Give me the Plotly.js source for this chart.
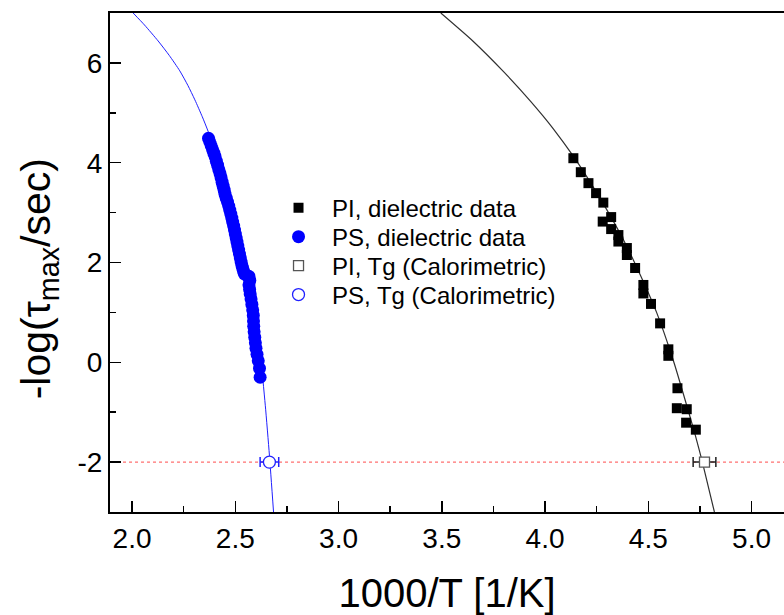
<!DOCTYPE html>
<html>
<head>
<meta charset="utf-8">
<script src="https://cdn.plot.ly/plotly-3.0.1.min.js"></script>
<style>html,body{margin:0;padding:0;background:#fff;}#chart{width:784px;height:615px;}</style>
</head>
<body>
<div id="chart"></div>
<script>
// PI dielectric data (1000/T, -log tau)
const piX = [4.137, 4.173, 4.210, 4.247, 4.282, 4.320, 4.279, 4.320, 4.355, 4.355, 4.396, 4.396, 4.436, 4.476, 4.476, 4.513, 4.557, 4.597, 4.597, 4.641, 4.638, 4.686, 4.683, 4.730];
const piY = [4.09, 3.81, 3.59, 3.39, 3.20, 2.91, 2.82, 2.67, 2.55, 2.42, 2.29, 2.15, 1.89, 1.55, 1.38, 1.17, 0.78, 0.26, 0.13, -0.52, -0.92, -0.94, -1.21, -1.35];

// PS dielectric data
const psX = [2.370, 2.376, 2.383, 2.390, 2.396, 2.402, 2.408, 2.414, 2.420, 2.426, 2.431, 2.436, 2.441, 2.446, 2.450, 2.456, 2.462, 2.468, 2.473, 2.478, 2.483, 2.487, 2.492, 2.496, 2.500, 2.504, 2.508, 2.512, 2.516, 2.520, 2.524, 2.528, 2.532, 2.536, 2.540, 2.544, 2.556, 2.566, 2.570, 2.566, 2.569, 2.572, 2.576, 2.580, 2.584, 2.587, 2.588, 2.589, 2.591, 2.594, 2.597, 2.600, 2.605, 2.611, 2.617, 2.620];
const psY = [4.49, 4.42, 4.34, 4.26, 4.19, 4.12, 4.03, 3.95, 3.86, 3.78, 3.70, 3.61, 3.53, 3.45, 3.37, 3.29, 3.21, 3.13, 3.05, 2.97, 2.89, 2.81, 2.73, 2.65, 2.57, 2.49, 2.41, 2.33, 2.25, 2.17, 2.09, 2.01, 1.94, 1.88, 1.82, 1.77, 1.74, 1.72, 1.64, 1.55, 1.46, 1.37, 1.27, 1.16, 1.05, 0.94, 0.83, 0.72, 0.61, 0.50, 0.39, 0.28, 0.16, 0.03, -0.12, -0.30];

// Calorimetric Tg points
const piTgX = [4.772];
const piTgY = [-2];
const piTgErr = [0.055];
const psTgX = [2.665];
const psTgY = [-2];
const psTgErr = [0.045];

// VFT fit curves
const psFitX = [2.005, 2.06, 2.126, 2.18, 2.231, 2.27, 2.304, 2.34, 2.368, 2.41, 2.45, 2.50, 2.55, 2.59, 2.62, 2.645, 2.665, 2.685];
const psFitY = [7.0, 6.76, 6.44, 6.15, 5.84, 5.55, 5.26, 4.92, 4.63, 4.13, 3.59, 2.81, 1.91, 1.03, 0.19, -0.86, -1.86, -3.0];
const piFitX = [3.495, 3.65, 3.80, 3.93, 4.04, 4.14, 4.22, 4.30, 4.38, 4.46, 4.54, 4.62, 4.67, 4.726, 4.76, 4.82];
const piFitY = [7.0, 6.44, 5.82, 5.23, 4.68, 4.11, 3.60, 3.05, 2.45, 1.76, 1.0, 0.05, -0.64, -1.44, -1.97, -3.0];

// reference level line
const refX = [1.956, 5.3];
const refY = [-2, -2];

// tick labels and titles
const xTickVals = [2.0, 2.5, 3.0, 3.5, 4.0, 4.5, 5.0];
const xTickText = ['2.0', '2.5', '3.0', '3.5', '4.0', '4.5', '5.0'];
const xMinorVals = [2.25, 2.75, 3.25, 3.75, 4.25, 4.75];
const yTickVals = [-2, 0, 2, 4, 6];
const yTickText = ['-2', '0', '2', '4', '6'];
const yMinorVals = [-1, 1, 3, 5];
const xTitle = '1000/T [1/K]';
const yTitle = '-log(τ<sub>max</sub>/sec)';

const FONT = 'Liberation Sans, Arial, Helvetica, sans-serif';

const traces = [
  {x: refX, y: refY, mode: 'lines', line: {color: '#ff7070', width: 1.3, dash: 'dot'}, showlegend: false, hoverinfo: 'skip'},
  {x: psFitX, y: psFitY, mode: 'lines', line: {color: '#2020ff', width: 1, shape: 'spline', smoothing: 0.6}, showlegend: false, hoverinfo: 'skip'},
  {x: piFitX, y: piFitY, mode: 'lines', line: {color: '#303030', width: 1.2, shape: 'spline', smoothing: 0.6}, showlegend: false, hoverinfo: 'skip'},
  {x: piX, y: piY, mode: 'markers', name: 'PI, dielectric data', legend: 'legend', marker: {symbol: 'square', size: 10, color: '#000000'}},
  {x: psX, y: psY, mode: 'markers', name: 'PS, dielectric data', legend: 'legend2', marker: {symbol: 'circle', size: 13, color: '#0000ff'}},
  {x: piTgX, y: piTgY, mode: 'markers', name: 'PI, Tg (Calorimetric)', legend: 'legend3', marker: {symbol: 'square', size: 10, color: '#ffffff', line: {color: '#555555', width: 1.3}},
   error_x: {type: 'data', array: piTgErr, visible: true, color: '#202020', thickness: 1.5, width: 5}},
  {x: psTgX, y: psTgY, mode: 'markers', name: 'PS, Tg (Calorimetric)', legend: 'legend4', marker: {symbol: 'circle', size: 12, color: '#ffffff', line: {color: '#2020ff', width: 1.3}},
   error_x: {type: 'data', array: psTgErr, visible: true, color: '#2020ff', thickness: 1.5, width: 5}}
];

function leg(y) {
  return {x: 0.230, y: y, xanchor: 'left', yanchor: 'middle', bgcolor: 'rgba(0,0,0,0)',
          font: {size: 24, family: FONT, color: '#000'}, itemwidth: 57, borderwidth: 0};
}

const layout = {
  width: 784, height: 615,
  margin: {l: 110, r: 0, t: 13, b: 103},
  paper_bgcolor: '#ffffff', plot_bgcolor: '#ffffff',
  font: {family: FONT, color: '#000'},
  showlegend: true,
  legend: leg(0.609),
  legend2: leg(0.551),
  legend3: leg(0.493),
  legend4: leg(0.435),
  xaxis: {
    range: [1.893, 5.157], showgrid: false, zeroline: false,
    showline: true, linecolor: '#000', linewidth: 2, mirror: true,
    tickmode: 'array', tickvals: xTickVals, ticktext: xTickText,
    ticks: 'inside', ticklen: 11, tickwidth: 1.5, tickcolor: '#000',
    minor: {tickmode: 'array', tickvals: xMinorVals, ticks: 'inside', ticklen: 6, tickwidth: 1.5, tickcolor: '#000'},
    tickfont: {size: 28, family: FONT},
    title: {text: xTitle, font: {size: 40, family: FONT}, standoff: 27}
  },
  yaxis: {
    range: [-3, 7], showgrid: false, zeroline: false,
    showline: true, linecolor: '#000', linewidth: 2, mirror: false,
    tickmode: 'array', tickvals: yTickVals, ticktext: yTickText,
    ticks: 'inside', ticklen: 11, tickwidth: 1.5, tickcolor: '#000',
    minor: {tickmode: 'array', tickvals: yMinorVals, ticks: 'inside', ticklen: 6, tickwidth: 1.5, tickcolor: '#000'},
    tickfont: {size: 28, family: FONT}
  },
  annotations: [
    {text: yTitle, xref: 'paper', yref: 'paper', x: -0.104, y: 0.468, xanchor: 'center', yanchor: 'middle',
     textangle: -90, showarrow: false, font: {size: 41, family: FONT, color: '#000'}}
  ]
};

Plotly.newPlot('chart', traces, layout, {displayModeBar: false, staticPlot: true});
</script>
</body>
</html>
